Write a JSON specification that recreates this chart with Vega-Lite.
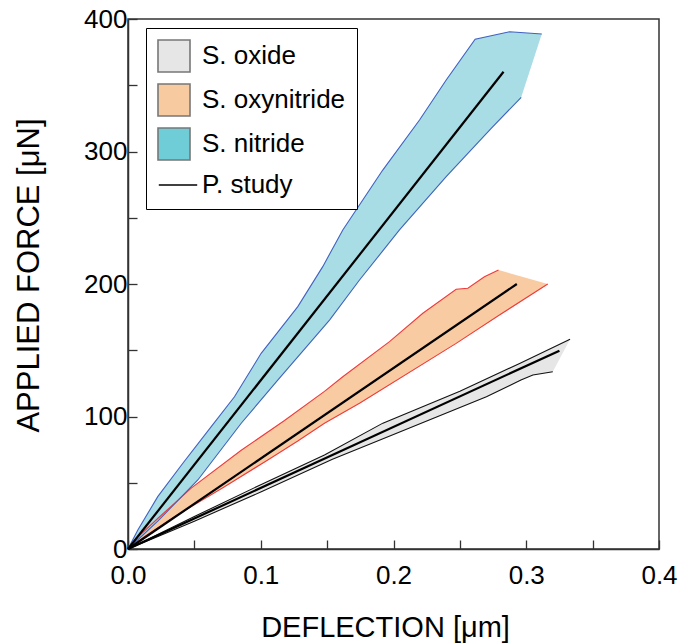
{
  "$schema": "https://vega.github.io/schema/vega-lite/v6.json",
  "width": 531,
  "height": 530,
  "autosize": {"type": "none"},
  "padding": {"left": 128, "top": 19, "right": 19, "bottom": 94},
  "background": "white",
  "config": {
    "font": "Liberation Sans",
    "view": {"stroke": "#333", "strokeWidth": 1.5},
    "axis": {
      "grid": false,
      "domainColor": "#333",
      "domainWidth": 1.5,
      "tickColor": "#333",
      "tickWidth": 1.3,
      "tickSize": -9,
      "labelFont": "Liberation Sans",
      "labelFontSize": 26,
      "labelColor": "#000",
      "labelOverlap": false,
      "labelFlush": false,
      "titleFont": "Liberation Sans",
      "titleFontWeight": "normal",
      "titleColor": "#000"
    },
    "legend": {
      "orient": "none",
      "legendX": 18,
      "legendY": 9,
      "padding": 11,
      "strokeColor": "#000",
      "fillColor": "#fff",
      "symbolSize": 1024,
      "symbolOpacity": 1,
      "symbolStrokeWidth": 1.6,
      "rowPadding": 4,
      "labelOffset": 11,
      "labelFont": "Liberation Sans",
      "labelFontSize": 26,
      "labelColor": "#000",
      "labelLimit": 300
    }
  },
  "datasets": {
    "bands": [
      {"m": "S. oxide", "e": "upper", "i": 1, "x": 0, "y": 0},
      {"m": "S. oxide", "e": "upper", "i": 2, "x": 0.05, "y": 24.5},
      {"m": "S. oxide", "e": "upper", "i": 3, "x": 0.1, "y": 48.5},
      {"m": "S. oxide", "e": "upper", "i": 4, "x": 0.148, "y": 71},
      {"m": "S. oxide", "e": "upper", "i": 5, "x": 0.192, "y": 95},
      {"m": "S. oxide", "e": "upper", "i": 6, "x": 0.25, "y": 119},
      {"m": "S. oxide", "e": "upper", "i": 7, "x": 0.295, "y": 140},
      {"m": "S. oxide", "e": "upper", "i": 8, "x": 0.333, "y": 158.3},
      {"m": "S. oxide", "e": "lower", "i": 9, "x": 0.32, "y": 133.8},
      {"m": "S. oxide", "e": "lower", "i": 10, "x": 0.305, "y": 131.3},
      {"m": "S. oxide", "e": "lower", "i": 11, "x": 0.296, "y": 127.5},
      {"m": "S. oxide", "e": "lower", "i": 12, "x": 0.27, "y": 114.9},
      {"m": "S. oxide", "e": "lower", "i": 13, "x": 0.2, "y": 86.5},
      {"m": "S. oxide", "e": "lower", "i": 14, "x": 0.154, "y": 67.7},
      {"m": "S. oxide", "e": "lower", "i": 15, "x": 0.1, "y": 43},
      {"m": "S. oxide", "e": "lower", "i": 16, "x": 0.05, "y": 21},
      {"m": "S. oxide", "e": "lower", "i": 17, "x": 0, "y": 0},

      {"m": "S. oxynitride", "e": "upper", "i": 1, "x": 0, "y": 0},
      {"m": "S. oxynitride", "e": "upper", "i": 2, "x": 0.0074, "y": 9},
      {"m": "S. oxynitride", "e": "upper", "i": 3, "x": 0.0224, "y": 23},
      {"m": "S. oxynitride", "e": "upper", "i": 4, "x": 0.0476, "y": 46},
      {"m": "S. oxynitride", "e": "upper", "i": 5, "x": 0.0853, "y": 74.5},
      {"m": "S. oxynitride", "e": "upper", "i": 6, "x": 0.1179, "y": 97},
      {"m": "S. oxynitride", "e": "upper", "i": 7, "x": 0.148, "y": 119},
      {"m": "S. oxynitride", "e": "upper", "i": 8, "x": 0.1618, "y": 130},
      {"m": "S. oxynitride", "e": "upper", "i": 9, "x": 0.197, "y": 156.5},
      {"m": "S. oxynitride", "e": "upper", "i": 10, "x": 0.2221, "y": 177.9},
      {"m": "S. oxynitride", "e": "upper", "i": 11, "x": 0.2472, "y": 196},
      {"m": "S. oxynitride", "e": "upper", "i": 12, "x": 0.256, "y": 196.8},
      {"m": "S. oxynitride", "e": "upper", "i": 13, "x": 0.2685, "y": 205.5},
      {"m": "S. oxynitride", "e": "upper", "i": 14, "x": 0.2791, "y": 210.6},
      {"m": "S. oxynitride", "e": "lower", "i": 15, "x": 0.3162, "y": 200},
      {"m": "S. oxynitride", "e": "lower", "i": 16, "x": 0.2798, "y": 176.6},
      {"m": "S. oxynitride", "e": "lower", "i": 17, "x": 0.2472, "y": 155.2},
      {"m": "S. oxynitride", "e": "lower", "i": 18, "x": 0.1744, "y": 110},
      {"m": "S. oxynitride", "e": "lower", "i": 19, "x": 0.148, "y": 94.9},
      {"m": "S. oxynitride", "e": "lower", "i": 20, "x": 0.1279, "y": 81.5},
      {"m": "S. oxynitride", "e": "lower", "i": 21, "x": 0.1053, "y": 67.2},
      {"m": "S. oxynitride", "e": "lower", "i": 22, "x": 0.0727, "y": 47},
      {"m": "S. oxynitride", "e": "lower", "i": 23, "x": 0.035, "y": 24.4},
      {"m": "S. oxynitride", "e": "lower", "i": 24, "x": 0.0124, "y": 9.3},
      {"m": "S. oxynitride", "e": "lower", "i": 25, "x": 0, "y": 0},

      {"m": "S. nitride", "e": "upper", "i": 1, "x": 0, "y": 0},
      {"m": "S. nitride", "e": "upper", "i": 2, "x": 0.0074, "y": 14.3},
      {"m": "S. nitride", "e": "upper", "i": 3, "x": 0.0224, "y": 39.5},
      {"m": "S. nitride", "e": "upper", "i": 4, "x": 0.0413, "y": 64.7},
      {"m": "S. nitride", "e": "upper", "i": 5, "x": 0.0627, "y": 92.3},
      {"m": "S. nitride", "e": "upper", "i": 6, "x": 0.0802, "y": 114.9},
      {"m": "S. nitride", "e": "upper", "i": 7, "x": 0.1003, "y": 147.7},
      {"m": "S. nitride", "e": "upper", "i": 8, "x": 0.1279, "y": 182.9},
      {"m": "S. nitride", "e": "upper", "i": 9, "x": 0.1467, "y": 213.1},
      {"m": "S. nitride", "e": "upper", "i": 10, "x": 0.1618, "y": 240.8},
      {"m": "S. nitride", "e": "upper", "i": 11, "x": 0.1919, "y": 286},
      {"m": "S. nitride", "e": "upper", "i": 12, "x": 0.2196, "y": 323.8},
      {"m": "S. nitride", "e": "upper", "i": 13, "x": 0.2397, "y": 354},
      {"m": "S. nitride", "e": "upper", "i": 14, "x": 0.2615, "y": 384.7},
      {"m": "S. nitride", "e": "upper", "i": 15, "x": 0.2874, "y": 390.4},
      {"m": "S. nitride", "e": "upper", "i": 16, "x": 0.3117, "y": 388.7},
      {"m": "S. nitride", "e": "lower", "i": 17, "x": 0.2962, "y": 340.9},
      {"m": "S. nitride", "e": "lower", "i": 18, "x": 0.2736, "y": 317.5},
      {"m": "S. nitride", "e": "lower", "i": 19, "x": 0.2397, "y": 281},
      {"m": "S. nitride", "e": "lower", "i": 20, "x": 0.2045, "y": 240.8},
      {"m": "S. nitride", "e": "lower", "i": 21, "x": 0.1744, "y": 203},
      {"m": "S. nitride", "e": "lower", "i": 22, "x": 0.1518, "y": 172.8},
      {"m": "S. nitride", "e": "lower", "i": 23, "x": 0.1128, "y": 127.5},
      {"m": "S. nitride", "e": "lower", "i": 24, "x": 0.0853, "y": 94.9},
      {"m": "S. nitride", "e": "lower", "i": 25, "x": 0.0526, "y": 52.1},
      {"m": "S. nitride", "e": "lower", "i": 26, "x": 0.0224, "y": 21},
      {"m": "S. nitride", "e": "lower", "i": 27, "x": 0, "y": 0}
    ],
    "study": [
      {"m": "S. oxide", "x": 0, "y": 0},
      {"m": "S. oxide", "x": 0.325, "y": 149.7},
      {"m": "S. oxynitride", "x": 0, "y": 0},
      {"m": "S. oxynitride", "x": 0.2929, "y": 200},
      {"m": "S. nitride", "x": 0, "y": 0},
      {"m": "S. nitride", "x": 0.2829, "y": 360.2}
    ],
    "keys": [
      {"k": "S. oxide", "x": 0, "y": 0},
      {"k": "S. oxynitride", "x": 0, "y": 0},
      {"k": "S. nitride", "x": 0, "y": 0},
      {"k": "P. study", "x": 0, "y": 0}
    ]
  },
  "encoding": {
    "x": {
      "field": "x", "type": "quantitative",
      "scale": {"domain": [0, 0.4], "nice": false, "zero": false},
      "axis": {
        "title": "DEFLECTION [μm]",
        "titleFontSize": 29,
        "values": [0, 0.05, 0.1, 0.15, 0.2, 0.25, 0.3, 0.35, 0.4],
        "labelExpr": "round(datum.value*100) % 10 === 0 ? format(datum.value, '.1f') : ''",
        "labelPadding": 22,
        "titlePadding": 25,
        "titleX": 257
      }
    },
    "y": {
      "field": "y", "type": "quantitative",
      "scale": {"domain": [0, 400], "nice": false},
      "axis": {
        "title": "APPLIED FORCE [μN]",
        "titleFontSize": 31,
        "values": [0, 50, 100, 150, 200, 250, 300, 350, 400],
        "labelExpr": "datum.value % 100 === 0 ? datum.label : ''",
        "labelPadding": 10,
        "titlePadding": 38,
        "titleY": 256
      }
    }
  },
  "layer": [
    {
      "data": {"name": "bands"},
      "transform": [{"filter": "datum.m === 'S. oxide'"}],
      "mark": {"type": "line", "strokeWidth": 0, "fill": "#e6e6e6"},
      "encoding": {"order": {"field": "i", "type": "quantitative"}}
    },
    {
      "data": {"name": "bands"},
      "transform": [{"filter": "datum.m === 'S. oxynitride'"}],
      "mark": {"type": "line", "strokeWidth": 0, "fill": "#f9cba2"},
      "encoding": {"order": {"field": "i", "type": "quantitative"}}
    },
    {
      "data": {"name": "bands"},
      "transform": [{"filter": "datum.m === 'S. nitride'"}],
      "mark": {"type": "line", "strokeWidth": 0, "fill": "#a9dde5"},
      "encoding": {"order": {"field": "i", "type": "quantitative"}}
    },
    {
      "data": {"name": "bands"},
      "mark": {"type": "line", "strokeWidth": 1.1},
      "encoding": {
        "detail": [{"field": "m"}, {"field": "e"}],
        "color": {
          "field": "m", "type": "nominal",
          "scale": {
            "domain": ["S. oxide", "S. oxynitride", "S. nitride"],
            "range": ["#111111", "#ee3a3a", "#3f62bf"]
          },
          "legend": null
        }
      }
    },
    {
      "data": {"name": "study"},
      "mark": {"type": "line", "color": "#000", "strokeWidth": 2.2},
      "encoding": {
        "detail": {"field": "m"}
      }
    },
    {
      "data": {"name": "keys"},
      "mark": {"type": "point", "opacity": 0, "filled": true},
      "encoding": {
        "fill": {
          "field": "k", "type": "nominal",
          "scale": {
            "domain": ["S. oxide", "S. oxynitride", "S. nitride", "P. study"],
            "range": ["#e6e6e6", "#f8caa0", "#6fcdd8", "transparent"]
          },
          "legend": {"title": null, "symbolFillColor": "#ffffff"}
        },
        "stroke": {
          "field": "k", "type": "nominal",
          "scale": {
            "domain": ["S. oxide", "S. oxynitride", "S. nitride", "P. study"],
            "range": ["#777777", "#777777", "#777777", "#000000"]
          },
          "legend": {"title": null, "symbolFillColor": "#ffffff"}
        },
        "shape": {
          "field": "k", "type": "nominal",
          "scale": {
            "domain": ["S. oxide", "S. oxynitride", "S. nitride", "P. study"],
            "range": ["square", "square", "square", "M-0.95,0H1.45"]
          },
          "legend": {"title": null, "symbolFillColor": "#ffffff"}
        }
      }
    }
  ]
}
